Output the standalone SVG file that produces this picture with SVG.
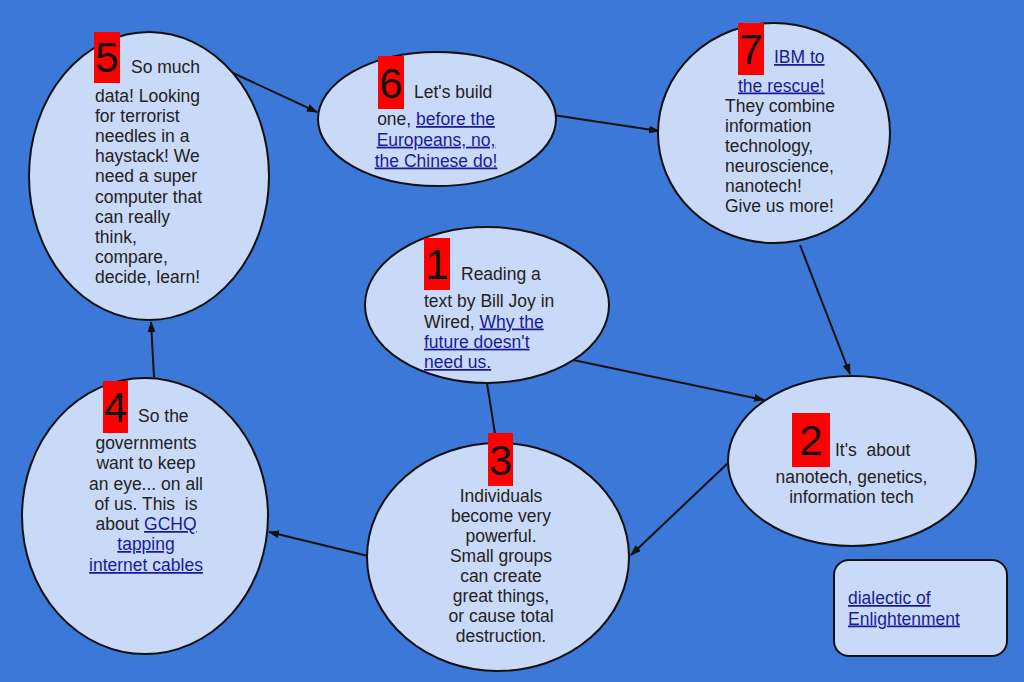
<svg xmlns="http://www.w3.org/2000/svg" width="1024" height="682" viewBox="0 0 1024 682">
<style>
.bg{fill:#3c78d8}
.node{fill:#c9daf8;stroke:#111;stroke-width:2}
.badge{fill:#ff0000}
.num{font-family:"Liberation Sans",Arial,sans-serif;font-size:42px;fill:#111;text-anchor:middle}
.t{font-family:"Liberation Sans",Arial,sans-serif;font-size:17.5px;fill:#222;white-space:pre}
.m{text-anchor:middle}
.lk{fill:#1a1a99;text-decoration:underline}
.edge{stroke:#111;stroke-width:2;fill:none}
</style>
<defs>
<marker id="arr" markerUnits="userSpaceOnUse" markerWidth="11" markerHeight="8" refX="10" refY="4" orient="auto">
<path d="M0,0 L11,4 L0,8 z" fill="#111"/>
</marker>
</defs>
<rect class="bg" x="0" y="0" width="1024" height="682"/>
<g id="connectors">
<line class="edge" x1="233" y1="73" x2="317" y2="112" marker-end="url(#arr)"/>
<line class="edge" x1="553" y1="115" x2="659" y2="131" marker-end="url(#arr)"/>
<line class="edge" x1="800" y1="245" x2="850" y2="374" marker-end="url(#arr)"/>
<line class="edge" x1="573" y1="360" x2="764" y2="400" marker-end="url(#arr)"/>
<line class="edge" x1="487" y1="383" x2="496" y2="440"/>
<line class="edge" x1="728" y1="463" x2="631" y2="555" marker-end="url(#arr)"/>
<line class="edge" x1="368" y1="556" x2="269" y2="532" marker-end="url(#arr)"/>
<line class="edge" x1="154" y1="377" x2="151" y2="322" marker-end="url(#arr)"/>
</g>
<g id="node5">
<ellipse class="node" cx="149" cy="176" rx="120" ry="144"/>
<rect class="badge" x="94" y="32" width="26" height="51"/>
<text class="num" x="107" y="72">5</text>
<text class="t" x="131" y="73">So much</text>
<text class="t" x="95" y="101.5">data! Looking</text>
<text class="t" x="95" y="121.7">for terrorist</text>
<text class="t" x="95" y="141.9">needles in a</text>
<text class="t" x="95" y="162.1">haystack! We</text>
<text class="t" x="95" y="182.3">need a super</text>
<text class="t" x="95" y="202.5">computer that</text>
<text class="t" x="95" y="222.7">can really</text>
<text class="t" x="95" y="242.9">think,</text>
<text class="t" x="95" y="263.1">compare,</text>
<text class="t" x="95" y="283.3">decide, learn!</text>
</g>
<g id="node6">
<ellipse class="node" cx="437" cy="119" rx="119" ry="67"/>
<rect class="badge" x="378" y="56" width="26" height="53"/>
<text class="num" x="391" y="98">6</text>
<text class="t" x="414" y="98">Let's build</text>
<text class="t m" x="436" y="125">one, <tspan class="lk">before the</tspan></text>
<text class="t m lk" x="436" y="145.7">Europeans, no,</text>
<text class="t m lk" x="436" y="166.5">the Chinese do!</text>
</g>
<g id="node7">
<ellipse class="node" cx="774" cy="133" rx="116" ry="110"/>
<rect class="badge" x="738" y="23" width="26" height="52"/>
<text class="num" x="751" y="64">7</text>
<text class="t lk" x="774" y="63">IBM to</text>
<text class="t lk" x="738" y="91.5">the rescue!</text>
<text class="t" x="725" y="111.7">They combine</text>
<text class="t" x="725" y="131.7">information</text>
<text class="t" x="725" y="151.7">technology,</text>
<text class="t" x="725" y="171.7">neuroscience,</text>
<text class="t" x="725" y="191.7">nanotech!</text>
<text class="t" x="725" y="212">Give us more!</text>
</g>
<g id="node1">
<ellipse class="node" cx="487" cy="305" rx="122" ry="78"/>
<rect class="badge" x="424" y="238" width="26" height="52"/>
<text class="num" x="437" y="279">1</text>
<text class="t" x="461" y="280">Reading a</text>
<text class="t" x="424" y="307">text by Bill Joy in</text>
<text class="t" x="424" y="327.5">Wired, <tspan class="lk">Why the</tspan></text>
<text class="t lk" x="424" y="347.7">future doesn't</text>
<text class="t lk" x="424" y="368">need us.</text>
</g>
<g id="node2">
<ellipse class="node" cx="852" cy="461" rx="124" ry="85"/>
<rect class="badge" x="792" y="413" width="38" height="54"/>
<text class="num" x="811" y="455">2</text>
<text class="t" x="835" y="456">It's  about</text>
<text class="t m" x="851.5" y="483">nanotech, genetics,</text>
<text class="t m" x="851.5" y="503">information tech</text>
</g>
<g id="node3">
<ellipse class="node" cx="498" cy="557" rx="131" ry="114"/>
<rect class="badge" x="488" y="433" width="25" height="53"/>
<text class="num" x="500.5" y="474.5">3</text>
<text class="t m" x="501" y="502">Individuals</text>
<text class="t m" x="501" y="522">become very</text>
<text class="t m" x="501" y="542">powerful.</text>
<text class="t m" x="501" y="562">Small groups</text>
<text class="t m" x="501" y="582">can create</text>
<text class="t m" x="501" y="602">great things,</text>
<text class="t m" x="501" y="622">or cause total</text>
<text class="t m" x="501" y="642">destruction.</text>
</g>
<g id="node4">
<ellipse class="node" cx="145" cy="516" rx="123" ry="138"/>
<rect class="badge" x="103" y="381" width="25" height="52"/>
<text class="num" x="115.5" y="422">4</text>
<text class="t" x="138" y="422">So the</text>
<text class="t m" x="146" y="449">governments</text>
<text class="t m" x="146" y="469">want to keep</text>
<text class="t m" x="146" y="490">an eye... on all</text>
<text class="t m" x="146" y="510">of us. This  is</text>
<text class="t m" x="146" y="530">about <tspan class="lk">GCHQ</tspan></text>
<text class="t m lk" x="146" y="550">tapping</text>
<text class="t m lk" x="146" y="571">internet cables</text>
</g>
<g id="note">
<rect class="node" x="834" y="560" width="173" height="96" rx="15" ry="15"/>
<text class="t lk" x="848" y="604">dialectic of</text>
<text class="t lk" x="848" y="624.5">Enlightenment</text>
</g>
</svg>
